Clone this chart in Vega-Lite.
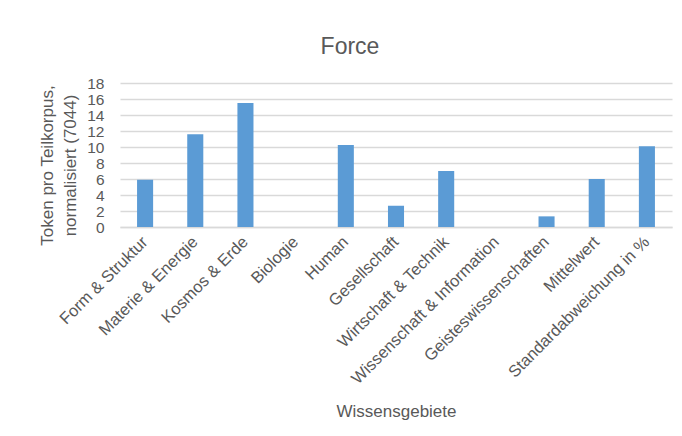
{
  "$schema": "https://vega.github.io/schema/vega-lite/v6.json",
  "width": 552,
  "height": 144,
  "autosize": "none",
  "padding": {"left": 120, "top": 83, "right": 10, "bottom": 209},
  "background": "white",
  "title": {
    "text": "Force",
    "font": "Liberation Sans",
    "fontSize": 23,
    "fontWeight": "normal",
    "color": "#595959",
    "anchor": "middle",
    "dx": -46,
    "dy": 23,
    "baseline": "alphabetic",
    "offset": 22
  },
  "data": {
    "values": [
      {"gebiet": "Form & Struktur", "token": 5.9},
      {"gebiet": "Materie & Energie", "token": 11.6},
      {"gebiet": "Kosmos & Erde", "token": 15.5},
      {"gebiet": "Biologie", "token": 0},
      {"gebiet": "Human", "token": 10.25},
      {"gebiet": "Gesellschaft", "token": 2.65},
      {"gebiet": "Wirtschaft & Technik", "token": 7.0},
      {"gebiet": "Wissenschaft & Information", "token": 0},
      {"gebiet": "Geisteswissenschaften", "token": 1.33},
      {"gebiet": "Mittelwert", "token": 6.0},
      {"gebiet": "Standardabweichung in %", "token": 10.08}
    ]
  },
  "mark": {"type": "bar", "color": "#5b9bd5"},
  "encoding": {
    "x": {
      "field": "gebiet",
      "type": "nominal",
      "sort": null,
      "scale": {"paddingInner": 0.68, "paddingOuter": 0.34},
      "axis": {
        "title": "Wissensgebiete",
        "titleFont": "Liberation Sans",
        "titleFontSize": 17,
        "titleFontWeight": "normal",
        "titleColor": "#595959",
        "titlePadding": 16,
        "labelFont": "Liberation Sans",
        "labelFontSize": 16.5,
        "labelColor": "#595959",
        "labelAngle": -45,
        "labelAlign": "right",
        "labelBaseline": "middle",
        "labelPadding": 12,
        "labelLimit": 300,
        "ticks": false,
        "domain": true,
        "domainColor": "#d9d9d9",
        "domainWidth": 1.5
      }
    },
    "y": {
      "field": "token",
      "type": "quantitative",
      "scale": {"domain": [0, 18], "nice": false},
      "axis": {
        "title": ["Token pro Teilkorpus,", "normalisiert (7044)"],
        "titleFont": "Liberation Sans",
        "titleFontSize": 17,
        "titleFontWeight": "normal",
        "titleColor": "#595959",
        "titleLineHeight": 23,
        "titlePadding": 7,
        "titleY": 82,
        "values": [0, 2, 4, 6, 8, 10, 12, 14, 16, 18],
        "labelFont": "Liberation Sans",
        "labelFontSize": 15.5,
        "labelColor": "#595959",
        "labelPadding": 16,
        "ticks": false,
        "domain": false,
        "grid": true,
        "gridColor": "#d9d9d9",
        "gridWidth": 1.5
      }
    }
  },
  "config": {
    "view": {"stroke": null}
  }
}
